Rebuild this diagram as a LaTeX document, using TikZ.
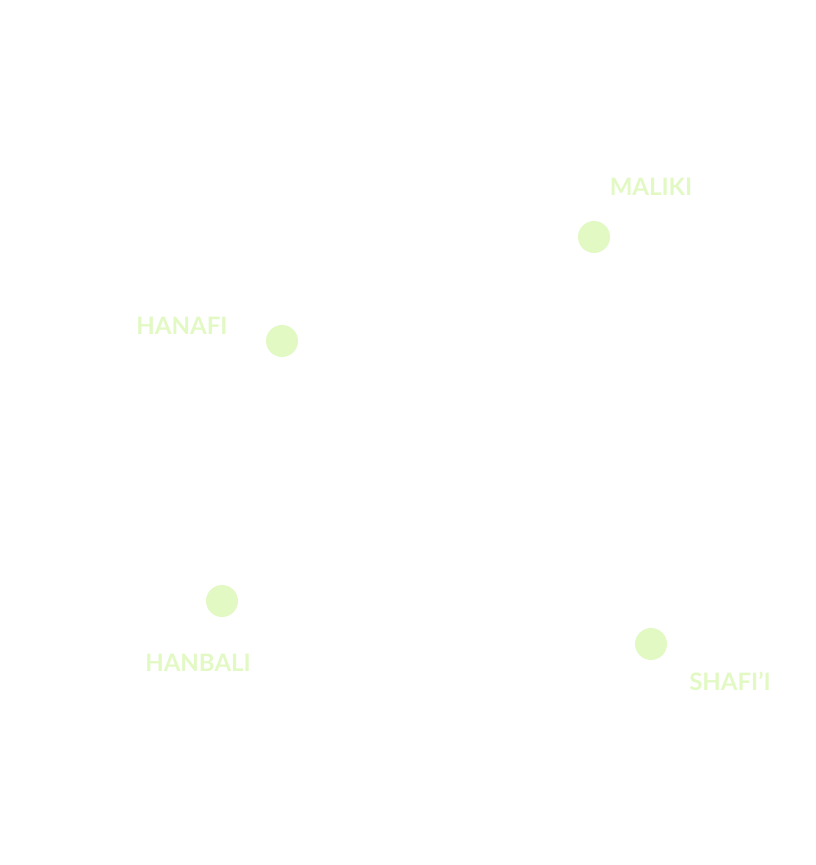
\documentclass[tikz,border=0pt]{standalone}
\usepackage{fontspec}
\setmainfont{Lato}
\usepackage{xcolor}
\usetikzlibrary{positioning}
\definecolor{schoolgreen}{RGB}{226,249,196}

\begin{document}
\begin{tikzpicture}[
  x=1pt, y=-1pt,
  dot/.style={circle, fill=schoolgreen, inner sep=0pt, minimum size=32pt},
  school/.style={text=schoolgreen, font=\fontsize{24}{28}\selectfont\bfseries, inner sep=0pt},
]
\useasboundingbox (0,0) rectangle (815,865);
\node[dot] (maliki)  at (594,237) {};
\node[dot] (hanafi)  at (282,341) {};
\node[dot] (hanbali) at (222,601) {};
\node[dot] (shafii)  at (651,644) {};
\node[school] (malikilab)  at (651,187) {MALIKI};
\node[school] (hanafilab)  at (182,326) {HANAFI};
\node[school] (hanbalilab) at (198,663) {HANBALI};
\node[school] (shafiilab)  at (730,681) {SHAFI'I};
\end{tikzpicture}
\end{document}
